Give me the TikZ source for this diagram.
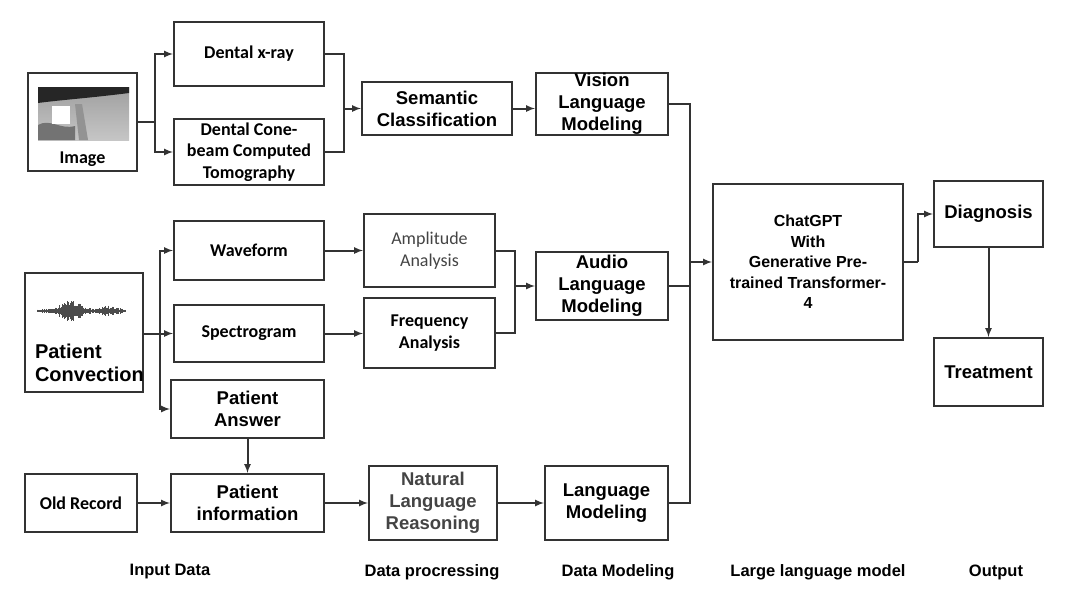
\documentclass[tikz,border=0pt]{standalone}
\usepackage{fontspec}
\setmainfont{Liberation Sans}
\newfontfamily\carlitofont{Carlito}
\usetikzlibrary{arrows}
\definecolor{boxline}{HTML}{333333}
\definecolor{softtext}{HTML}{444444}
\begin{document}
\begin{tikzpicture}[x=1pt,y=-1pt,->,>=latex,line width=2pt,draw=boxline]
        \tikzstyle{box}=[draw=boxline,rectangle,inner sep=0pt,align=center,font=\bfseries\fontsize{18.5}{22}\selectfont]
        \tikzstyle{cbox}=[box,font=\carlitofont\bfseries\fontsize{18}{21.5}\selectfont]
        \tikzstyle{stage}=[font=\bfseries\fontsize{16.5}{19}\selectfont]
        \tikzstyle{wire}=[-,line width=2pt,boxline]
        \useasboundingbox (0,0) rectangle (1080,597);

        % input column
        \node[cbox,minimum width=109,minimum height=98] (img) at (82.5,122) {};
        \node[cbox,draw=none,anchor=base] (imglbl) at (82.5,163) {Image};
        \shade[top color=gray!75,bottom color=gray!45] (38,87) rectangle (129,140);
        \fill[black!85] (38,87) -- (129,87) -- (129,93) .. controls (90,98) and (60,100) .. (38,103) -- cycle;
        \fill[black!55] (38,125) .. controls (50,118) and (60,130) .. (75,126) -- (75,140) -- (38,140) -- cycle;
        \fill[white] (52,106) rectangle (70,124);
        \fill[gray!85] (75,104) -- (82,104) -- (88,140) -- (79,140) -- cycle;
        \node[cbox,minimum width=150,minimum height=64] (xray) at (249,54) {Dental x-ray};
        \node[cbox,minimum width=150,minimum height=66] (cbct) at (249,152) {Dental Cone-\\beam Computed\\Tomography};

        \node[box,minimum width=118,minimum height=119] (conv) at (84,332.5) {};
        \node[box,draw=none,anchor=west,align=left,font=\bfseries\fontsize{20}{23}\selectfont] (convlbl) at (34,363) {Patient\\Convection};
        \pgfmathsetseed{7}
        \foreach \i in {0,...,88}{
            \pgfmathsetmacro{\amp}{(1.5+9*exp(-((\i-33)/14)^2)+4*exp(-((\i-72)/10)^2))*(0.4+0.6*rnd)}
            \draw[-,line width=0.6pt,black!70] (37+\i,311-\amp) -- (37+\i,311+\amp);
        }
        \node[cbox,minimum width=150,minimum height=59] (wave) at (249,250.5) {Waveform};
        \node[cbox,minimum width=150,minimum height=57] (spec) at (249,333.5) {Spectrogram};
        \node[box,minimum width=153,minimum height=58] (answer) at (247.5,409) {Patient\\Answer};
        \node[cbox,minimum width=112,minimum height=58] (old) at (81,503) {Old Record};
        \node[box,minimum width=153,minimum height=58] (info) at (247.5,503) {Patient\\information};

        % processing
        \node[box,minimum width=150,minimum height=53] (sem) at (437,108.5) {Semantic\\Classification};
        \node[cbox,text=softtext,font=\carlitofont\fontsize{18}{21.5}\selectfont,minimum width=131,minimum height=73] (amp) at (429.5,250.5) {Amplitude\\Analysis};
        \node[cbox,minimum width=131,minimum height=70] (freq) at (429.5,333) {Frequency\\Analysis};
        \node[box,text=softtext,minimum width=128,minimum height=74] (nlr) at (433,503) {Natural\\Language\\Reasoning};

        % modeling
        \node[box,minimum width=132,minimum height=62] (vlm) at (602,104) {Vision\\Language\\Modeling};
        \node[box,minimum width=132,minimum height=68] (alm) at (602,286) {Audio\\Language\\Modeling};
        \node[box,minimum width=123,minimum height=74] (lm) at (606.5,503) {Language\\Modeling};

        % llm and output
        \node[box,font=\bfseries\fontsize{16}{20.5}\selectfont,minimum width=190,minimum height=156] (gpt) at (808,262) {ChatGPT\\With\\Generative Pre-\\trained Transformer-\\4};
        \node[box,minimum width=109,minimum height=66] (diag) at (988.5,214) {Diagnosis};
        \node[box,minimum width=109,minimum height=68] (treat) at (988.5,372) {Treatment};

        % stage labels
        \node[stage] (s1) at (170,572) {Input Data};
        \node[stage] (s2) at (432,572) {Data procressing};
        \node[stage] (s3) at (618,572) {Data Modeling};
        \node[stage] (s4) at (818,572) {Large language model};
        \node[stage] (s5) at (996,572) {Output};

        % connectors
        \coordinate (jimg) at (155,122);
        \draw[wire] (img.east) -- (jimg);
        \draw (jimg) |- (xray.west);
        \draw (jimg) |- (cbct.west);
        \coordinate (jsem) at (344,108.5);
        \draw[wire] (xray.east) -| (jsem);
        \draw[wire] (cbct.east) -| (jsem);
        \draw (jsem) -- (sem.west);
        \draw (sem.east) -- (vlm.west |- sem.east);

        \coordinate (jconv) at (160,333.5);
        \draw[wire] (conv.east |- jconv) -- (jconv);
        \draw (jconv) |- (wave.west);
        \draw (jconv) -- (spec.west);
        \draw (jconv) |- (answer.west);
        \draw (wave.east) -- (amp.west |- wave.east);
        \draw (spec.east) -- (freq.west |- spec.east);
        \coordinate (jaud) at (515,286);
        \draw[wire] (amp.east) -| (jaud);
        \draw[wire] (freq.east) -| (jaud);
        \draw (jaud) -- (alm.west);

        \draw (answer.south) -- (info.north);
        \draw (old.east) -- (info.west);
        \draw (info.east) -- (nlr.west);
        \draw (nlr.east) -- (lm.west);

        \coordinate (jllm) at (690,262);
        \draw[wire] (vlm.east) -| (jllm);
        \draw[wire] (lm.east) -| (jllm);
        \draw[wire] (alm.east) -- (alm.east -| jllm);
        \draw (jllm) -- (gpt.west);
        \coordinate (jout) at (918,262);
        \draw[wire] (gpt.east) -- (jout);
        \draw (jout) |- (diag.west);
        \draw (diag.south) -- (treat.north);
    \end{tikzpicture}
\end{document}
